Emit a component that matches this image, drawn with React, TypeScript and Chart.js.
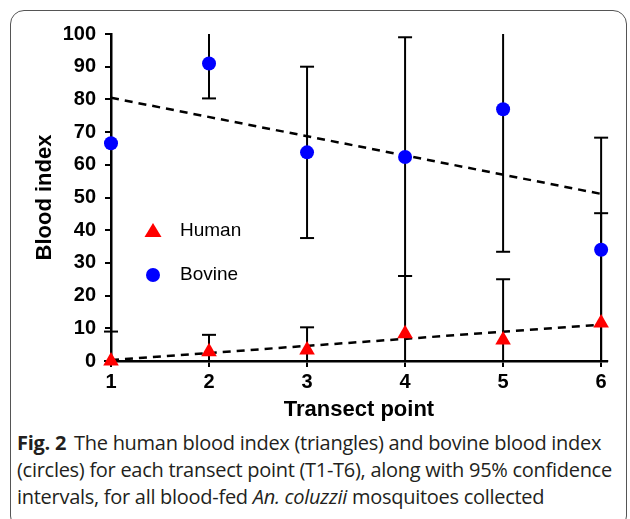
import React, { useEffect, useRef } from "react";
import { Chart, registerables } from "chart.js";

Chart.register(...registerables);

// ---- Data ----
const transectPoints = [1, 2, 3, 4, 5, 6];
const humanIndex = [0, 2.8, 3.4, 8.3, 6.4, 11.6];
const humanLow = [0, 0, 0, 0, 0, 0];
const humanHigh = [9, 8, 10.3, 26, 25, 45.2];
const bovineIndex = [66.6, 91, 63.8, 62.4, 77, 34];
const bovineLow: (number | null)[] = [null, 80.3, 37.6, 26, 33.4, 0];
const bovineHigh: (number | null)[] = [null, 100, 90, 99, 100, 68.3];
const trendX = [1, 6];
const humanTrend = [0.3, 11.1];
const bovineTrend = [80.5, 51.1];
const yTicks = [0, 10, 20, 30, 40, 50, 60, 70, 80, 90, 100];
const xTicks = [1, 2, 3, 4, 5, 6];
const legendLabels = ["Human", "Bovine"];

const FONT = '"Liberation Sans", Arial, sans-serif';

const errorBarPlugin = {
  id: "errorBars",
  beforeDatasetsDraw(chart: any) {
    const ctx = chart.ctx;
    const x = chart.scales.x;
    const y = chart.scales.y;
    ctx.save();
    ctx.strokeStyle = "#000";
    ctx.lineWidth = 2;
    chart.data.datasets.forEach((ds: any) => {
      if (!ds.errLow) return;
      ds.data.forEach((pt: any, i: number) => {
        const lo = ds.errLow[i];
        const hi = ds.errHigh[i];
        if (lo == null || hi == null) return;
        const px = x.getPixelForValue(pt.x);
        const pLo = y.getPixelForValue(lo);
        const pHi = y.getPixelForValue(hi);
        ctx.beginPath();
        ctx.moveTo(px, pLo);
        ctx.lineTo(px, pHi);
        ctx.stroke();
        const cap = 7;
        [[lo, pLo], [hi, pHi]].forEach(([v, p]) => {
          if (v >= y.max) return;
          ctx.beginPath();
          ctx.moveTo(px - cap, p);
          ctx.lineTo(px + cap, p);
          ctx.stroke();
        });
      });
    });
    ctx.restore();
  },
};

const legendPlugin = {
  id: "insideLegend",
  afterDraw(chart: any) {
    const ctx = chart.ctx;
    const ca = chart.chartArea;
    const sx = ca.left + 42;
    const rows = [231, 275];
    ctx.save();
    ctx.font = `19px ${FONT}`;
    ctx.textBaseline = "middle";
    ctx.fillStyle = "#ff0000";
    ctx.beginPath();
    ctx.moveTo(sx, rows[0] - 8);
    ctx.lineTo(sx + 8.5, rows[0] + 6);
    ctx.lineTo(sx - 8.5, rows[0] + 6);
    ctx.closePath();
    ctx.fill();
    ctx.fillStyle = "#0000ff";
    ctx.beginPath();
    ctx.arc(sx, rows[1], 7, 0, Math.PI * 2);
    ctx.fill();
    ctx.fillStyle = "#000";
    ctx.fillText(legendLabels[0], sx + 27, rows[0]);
    ctx.fillText(legendLabels[1], sx + 27, rows[1]);
    ctx.restore();
  },
};

function ChartView() {
  const ref = useRef<HTMLCanvasElement | null>(null);
  useEffect(() => {
    if (!ref.current) return;
    const chart = new Chart(ref.current, {
      type: "scatter",
      data: {
        datasets: [
          {
            label: "Human",
            data: transectPoints.map((t, i) => ({ x: t, y: humanIndex[i] })),
            pointStyle: "triangle",
            pointRadius: 9,
            backgroundColor: "#ff0000",
            borderColor: "#ff0000",
            borderWidth: 0,
            clip: false,
            errLow: humanLow,
            errHigh: humanHigh,
          } as any,
          {
            label: "Bovine",
            data: transectPoints.map((t, i) => ({ x: t, y: bovineIndex[i] })),
            pointStyle: "circle",
            pointRadius: 7,
            backgroundColor: "#0000ff",
            borderColor: "#0000ff",
            borderWidth: 0,
            clip: false,
            errLow: bovineLow,
            errHigh: bovineHigh,
          } as any,
          {
            type: "line",
            label: "Human trend",
            data: trendX.map((t, i) => ({ x: t, y: humanTrend[i] })),
            borderColor: "#000",
            borderWidth: 2.5,
            borderDash: [8, 6],
            pointRadius: 0,
            showLine: true,
            fill: false,
          } as any,
          {
            type: "line",
            label: "Bovine trend",
            data: trendX.map((t, i) => ({ x: t, y: bovineTrend[i] })),
            borderColor: "#000",
            borderWidth: 2.5,
            borderDash: [8, 6],
            pointRadius: 0,
            showLine: true,
            fill: false,
          } as any,
        ],
      },
      options: {
        animation: false,
        responsive: false,
        maintainAspectRatio: false,
        layout: { padding: { left: 0, top: 34, right: 23, bottom: 0 } },
        plugins: { legend: { display: false }, tooltip: { enabled: false } },
        scales: {
          x: {
            type: "linear",
            min: 1,
            max: 6.06,
            afterBuildTicks: (s: any) => {
              s.ticks = xTicks.map((v) => ({ value: v }));
            },
            afterFit: (s: any) => {
              s.height = 63;
            },
            grid: {
              display: true,
              drawOnChartArea: false,
              drawTicks: true,
              tickLength: 6,
              color: "#000",
              lineWidth: 2,
            },
            border: { display: true, color: "#000", width: 2.5 },
            ticks: {
              color: "#000",
              font: { family: FONT, size: 20, weight: "bold" },
              padding: 3,
              maxRotation: 0,
              callback: (v: any) => String(v),
            },
            title: {
              display: true,
              text: "Transect point",
              color: "#000",
              font: { family: FONT, size: 22, weight: "bold", lineHeight: 1 },
              padding: { top: 0, bottom: 3 },
            },
          },
          y: {
            type: "linear",
            min: 0,
            max: 100,
            afterBuildTicks: (s: any) => {
              s.ticks = yTicks.map((v) => ({ value: v }));
            },
            afterFit: (s: any) => {
              s.width = 111;
            },
            grid: {
              display: true,
              drawOnChartArea: false,
              drawTicks: true,
              tickLength: 6,
              color: "#000",
              lineWidth: 2,
            },
            border: { display: true, color: "#000", width: 2.5 },
            ticks: {
              color: "#000",
              font: { family: FONT, size: 20, weight: "bold" },
              padding: 9,
              callback: (v: any) => String(v),
            },
            title: {
              display: true,
              text: "Blood index",
              color: "#000",
              font: { family: FONT, size: 22, weight: "bold", lineHeight: 1 },
              padding: { top: 34, bottom: 0 },
            },
          },
        },
      },
      plugins: [errorBarPlugin, legendPlugin],
    });
    return () => chart.destroy();
  }, []);
  return (
    <canvas
      ref={ref}
      width={630}
      height={424}
      style={{ position: "absolute", left: 0, top: 0, width: 630, height: 424 }}
    />
  );
}

export default function App() {
  return (
    <div
      style={{
        position: "absolute",
        left: 0,
        top: 0,
        width: 630,
        height: 519,
        background: "#fff",
        overflow: "hidden",
      }}
    >
      <div
        style={{
          position: "absolute",
          left: 10,
          top: 10,
          width: 617,
          height: 520,
          border: "1.5px solid #555",
          borderRadius: 14,
          boxSizing: "border-box",
        }}
      />
      <ChartView />
      <div
        style={{
          position: "absolute",
          left: 17,
          top: 429,
          width: 610,
          fontFamily: '"Open Sans", sans-serif',
          fontSize: 20,
          lineHeight: "27px",
          letterSpacing: "-0.28px",
          color: "#231f20",
          whiteSpace: "nowrap",
        }}
      >
        <div>
          <b style={{ marginRight: 8 }}>Fig. 2</b>The human blood index (triangles) and bovine blood index
        </div>
        <div>(circles) for each transect point (T1-T6), along with 95% confidence</div>
        <div>
          intervals, for all blood-fed <i>An. coluzzii</i> mosquitoes collected
        </div>
      </div>
    </div>
  );
}
